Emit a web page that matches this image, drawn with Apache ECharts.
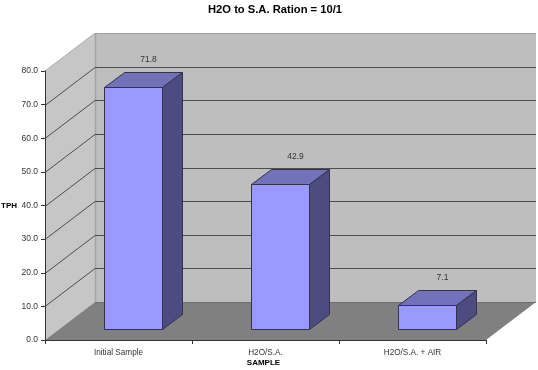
<!DOCTYPE html>
<html>
<head>
<meta charset="utf-8">
<style>
    html, body { margin: 0; padding: 0; background: #fff; }
    #main { width: 538px; height: 370px; }
</style>
<script src="https://cdn.jsdelivr.net/npm/echarts@6/dist/echarts.min.js"></script>
</head>
<body>
<div id="main"></div>
<script>
const categories = ['Initial Sample', 'H2O/S.A.', 'H2O/S.A. + AIR'];
const tphValues = [71.8, 42.9, 7.1];
const gridTicks = [10, 20, 30, 40, 50, 60, 70];

const FONT = '"Liberation Sans", Arial, sans-serif';
// 3D look: how far the back wall sits from the axes, and where a bar sits on the floor
const WALL_DX = 50, WALL_DY = -38;
const BAR_DX = 14.5, BAR_DY = -11.3, BAR_W = 58, DEPTH_DX = 20, DEPTH_DY = -15;
const EDGE = '#33334d';

function poly(points, fill, stroke, lineWidth) {
    return {
        type: 'polygon',
        shape: { points: points },
        style: { fill: fill, stroke: stroke || null, lineWidth: lineWidth || 0 }
    };
}

function renderWalls(params) {
    const c = params.coordSys;
    const l = c.x, r = c.x + c.width, t = c.y, b = c.y + c.height;
    const bl = l + WALL_DX, br = r + WALL_DX, bt = t + WALL_DY, bb = b + WALL_DY;
    return {
        type: 'group',
        children: [
            poly([[bl, bt], [br, bt], [br, bb], [bl, bb]], '#bebebe'),
            poly([[l, t], [bl, bt], [bl, bb], [l, b]], '#c6c6c6'),
            poly([[l, b], [r, b], [br, bb], [bl, bb]], '#808080'),
            { type: 'line', shape: { x1: bl + 0.5, y1: bt, x2: bl + 0.5, y2: bb }, style: { stroke: '#a3a3a3', lineWidth: 1.5 } },
            { type: 'line', shape: { x1: bl, y1: bt + 0.5, x2: br, y2: bt + 0.5 }, style: { stroke: '#a3a3a3', lineWidth: 1 } },
            { type: 'line', shape: { x1: l, y1: t, x2: bl, y2: bt }, style: { stroke: '#b0b0b0', lineWidth: 1 } },
            { type: 'line', shape: { x1: bl, y1: bb + 0.5, x2: br, y2: bb + 0.5 }, style: { stroke: '#6e6e6e', lineWidth: 1 } }
        ]
    };
}

function renderGridLine(params, api) {
    const c = params.coordSys;
    const y = Math.round(api.coord([0, api.value(0)])[1]) + 0.5;
    const bl = c.x + WALL_DX, br = c.x + c.width + WALL_DX;
    const by = y + WALL_DY;
    return {
        type: 'group',
        children: [
            { type: 'line', shape: { x1: c.x, y1: y, x2: bl, y2: by }, style: { stroke: '#4d4d4d', lineWidth: 1 } },
            { type: 'line', shape: { x1: bl, y1: by, x2: br, y2: by }, style: { stroke: '#4d4d4d', lineWidth: 1 } }
        ]
    };
}

function renderBar(params, api) {
    const i = api.value(0), v = api.value(1);
    const base = api.coord([i, 0]);
    const top = api.coord([i, v]);
    const x0 = Math.round(base[0] + BAR_DX - BAR_W / 2) + 0.5;
    const x1 = x0 + BAR_W;
    const y0 = Math.round(base[1] + BAR_DY) + 0.5;
    const y1 = Math.round(top[1] + BAR_DY) + 0.5;
    return {
        type: 'group',
        children: [
            poly([[x0, y1], [x1, y1], [x1, y0], [x0, y0]], '#9999ff', EDGE, 1),
            poly([[x0, y1], [x0 + DEPTH_DX, y1 + DEPTH_DY], [x1 + DEPTH_DX, y1 + DEPTH_DY], [x1, y1]], '#7272bb', EDGE, 1),
            poly([[x1, y1], [x1 + DEPTH_DX, y1 + DEPTH_DY], [x1 + DEPTH_DX, y0 + DEPTH_DY], [x1, y0]], '#4c4c80', EDGE, 1),
            {
                type: 'text',
                style: {
                    text: v.toFixed(1),
                    x: (x0 + x1) / 2 + 15,
                    y: y1 - 28,
                    align: 'center',
                    verticalAlign: 'middle',
                    fill: '#333',
                    font: '8.5px ' + FONT
                }
            }
        ]
    };
}

const myChart = echarts.init(document.getElementById('main'));
const option = {
    animation: false,
    backgroundColor: '#fff',
    title: {
        text: 'H2O to S.A. Ration = 10/1',
        left: 270,
        top: -1,
        textAlign: 'center',
        textStyle: { fontFamily: FONT, fontSize: 11.2, fontWeight: 'bold', color: '#000' }
    },
    grid: { left: 45, top: 71, width: 441, height: 269, outerBoundsMode: 'none' },
    xAxis: {
        type: 'category',
        data: categories,
        z: 5,
        name: 'SAMPLE',
        nameLocation: 'middle',
        nameMoveOverlap: false,
        nameGap: 19,
        nameTextStyle: { fontFamily: FONT, fontSize: 8, fontWeight: 'bold', color: '#000', padding: [0, 4, 0, 0] },
        axisLine: { show: true, lineStyle: { color: '#333' } },
        axisTick: { show: true, length: 4, lineStyle: { color: '#333' } },
        axisLabel: { fontFamily: FONT, fontSize: 8.2, color: '#333', margin: 9, interval: 0 },
        splitLine: { show: false }
    },
    yAxis: {
        type: 'value',
        min: 0,
        max: 80,
        interval: 10,
        z: 5,
        name: 'TPH',
        nameLocation: 'middle',
        nameMoveOverlap: false,
        nameGap: 28,
        nameRotate: 0,
        nameTextStyle: { fontFamily: FONT, fontSize: 8, fontWeight: 'bold', color: '#000' },
        axisLine: { show: true, lineStyle: { color: '#333' } },
        axisTick: { show: true, length: 4, lineStyle: { color: '#333' } },
        axisLabel: {
            fontFamily: FONT,
            fontSize: 8.5,
            color: '#333',
            margin: 7,
            formatter: (v) => v.toFixed(1)
        },
        splitLine: { show: false }
    },
    series: [
        {
            type: 'custom',
            z: 1,
            silent: true,
            clip: false,
            renderItem: renderWalls,
            data: [0]
        },
        {
            type: 'custom',
            z: 2,
            silent: true,
            clip: false,
            encode: { y: 0 },
            renderItem: renderGridLine,
            data: gridTicks.map(t => [t])
        },
        {
            type: 'custom',
            z: 3,
            clip: false,
            encode: { x: 0, y: 1 },
            renderItem: renderBar,
            data: tphValues.map((v, i) => [i, v])
        }
    ]
};
myChart.setOption(option);
</script>
</body>
</html>
